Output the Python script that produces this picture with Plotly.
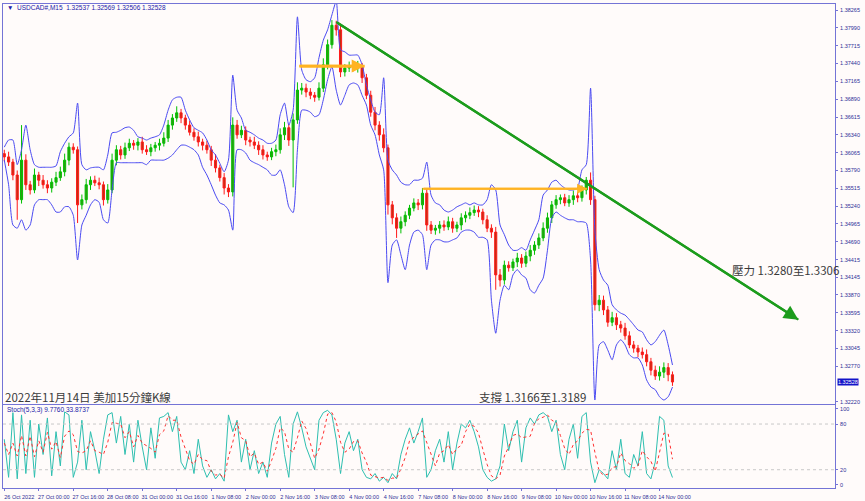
import plotly.graph_objects as go
from plotly.subplots import make_subplots

# ---------------- data (2-hour bars) ----------------
tick_idx = list(range(0, 153, 8))
tick_text = ["26 Oct 2022", "27 Oct 00:00", "27 Oct 16:00", "28 Oct 08:00", "31 Oct 00:00",
             "31 Oct 16:00", "1 Nov 08:00", "2 Nov 00:00", "2 Nov 16:00", "3 Nov 08:00",
             "4 Nov 00:00", "4 Nov 16:00", "7 Nov 08:00", "8 Nov 00:00", "8 Nov 16:00",
             "9 Nov 08:00", "10 Nov 00:00", "10 Nov 16:00", "11 Nov 08:00", "14 Nov 00:00"]

open_first = 1.3605
close = [1.3600, 1.3592, 1.3572, 1.3534, 1.3595, 1.3557, 1.3549, 1.3572, 1.3564, 1.3557,
         1.3552, 1.3561, 1.3568, 1.3577, 1.3595, 1.3615, 1.3611, 1.3526, 1.3534, 1.3557,
         1.3564, 1.3560, 1.3557, 1.3534, 1.3549, 1.3595, 1.3611, 1.3603, 1.3614, 1.3621,
         1.3618, 1.3623, 1.3611, 1.3608, 1.3614, 1.3618, 1.3621, 1.3629, 1.3649, 1.3660,
         1.3668, 1.3660, 1.3649, 1.3638, 1.3631, 1.3623, 1.3618, 1.3611, 1.3595, 1.3583,
         1.3568, 1.3552, 1.3546, 1.3649, 1.3634, 1.3641, 1.3626, 1.3623, 1.3618, 1.3611,
         1.3603, 1.3600, 1.3608, 1.3611, 1.3634, 1.3645, 1.3626, 1.3657, 1.3703, 1.3706,
         1.3700, 1.3695, 1.3692, 1.3706, 1.3742, 1.3773, 1.3803, 1.3796, 1.3731, 1.3737,
         1.3740, 1.3737, 1.3740, 1.3722, 1.3695, 1.3669, 1.3649, 1.3634, 1.3614, 1.3526,
         1.3506, 1.3490, 1.3500, 1.3510, 1.3521, 1.3529, 1.3526, 1.3544, 1.3495, 1.3487,
         1.3490, 1.3495, 1.3492, 1.3500, 1.3490, 1.3495, 1.3506, 1.3510, 1.3514, 1.3518,
         1.3515, 1.3503, 1.3490, 1.3484, 1.3418, 1.3410, 1.3433, 1.3429, 1.3438, 1.3444,
         1.3436, 1.3447, 1.3456, 1.3464, 1.3475, 1.3490, 1.3506, 1.3526, 1.3534, 1.3537,
         1.3529, 1.3534, 1.3540, 1.3537, 1.3549, 1.3564, 1.3534, 1.3372, 1.3379, 1.3364,
         1.3345, 1.3352, 1.3341, 1.3336, 1.3324, 1.3310, 1.3305, 1.3299, 1.3295, 1.3284,
         1.3271, 1.3262, 1.3268, 1.3275, 1.3264, 1.32528]

wick_up_pips = [6, 8, 5, 7, 54, 9, 6, 10, 5, 8, 7, 6, 9, 8, 10, 7, 6, 5, 8, 9,
                6, 7, 8, 5, 9, 10, 7, 6, 8, 7, 5, 6, 8, 7, 6, 5, 7, 9, 8, 6,
                10, 6, 5, 7, 6, 8, 5, 7, 6, 9, 5, 7, 6, 12, 8, 7, 6, 5, 8, 6,
                7, 5, 6, 8, 10, 9, 6, 10, 12, 8, 7, 6, 5, 9, 10, 8, 8, 7, 9, 6,
                7, 6, 8, 5, 6, 7, 8, 6, 10, 5, 6, 7, 8, 6, 5, 7, 6, 8, 7, 6,
                5, 6, 7, 8, 6, 5, 7, 6, 8, 7, 6, 5, 7, 6, 8, 9, 7, 6, 5, 8,
                6, 7, 8, 6, 7, 9, 8, 6, 7, 5, 6, 7, 8, 6, 7, 5, 12, 6, 8, 7,
                6, 9, 7, 6, 8, 7, 6, 5, 7, 8, 6, 7, 9, 8, 7, 5]
wick_dn_pips = [7, 6, 8, 31, 6, 8, 7, 5, 9, 6, 8, 7, 6, 5, 7, 8, 6, 28, 7, 6,
                8, 5, 7, 9, 6, 5, 8, 7, 6, 5, 7, 8, 6, 5, 7, 6, 8, 5, 6, 7,
                6, 8, 7, 5, 6, 7, 8, 6, 9, 7, 6, 10, 8, 7, 6, 5, 8, 7, 6, 8,
                7, 6, 5, 7, 6, 8, 9, 73, 6, 7, 8, 6, 7, 5, 6, 7, 6, 9, 8, 7,
                6, 5, 7, 8, 6, 7, 8, 9, 7, 15, 10, 15, 8, 7, 6, 5, 8, 7, 9, 6,
                7, 8, 6, 5, 7, 6, 8, 7, 6, 5, 8, 7, 6, 9, 23, 10, 7, 6, 5, 8,
                7, 6, 8, 7, 6, 5, 7, 8, 6, 7, 5, 6, 8, 7, 6, 7, 8, 9, 10, 8,
                7, 6, 8, 7, 6, 5, 7, 8, 6, 7, 8, 6, 7, 9, 10, 6]

band_up = [1.3615, 1.3626, 1.3626, 1.3588, 1.3611, 1.3649, 1.3611, 1.3588, 1.3584, 1.3584,
           1.3584, 1.3584, 1.3586, 1.3608, 1.3621, 1.3631, 1.3637, 1.3683, 1.3588, 1.3580,
           1.3583, 1.3584, 1.3584, 1.3580, 1.3603, 1.3637, 1.3638, 1.3641, 1.3645, 1.3646,
           1.3641, 1.3631, 1.3629, 1.3626, 1.3629, 1.3631, 1.3634, 1.3649, 1.3672, 1.3688,
           1.3692, 1.3692, 1.3672, 1.3657, 1.3645, 1.3641, 1.3637, 1.3626, 1.3611, 1.3603,
           1.3590, 1.3577, 1.3595, 1.3726, 1.3672, 1.3660, 1.3641, 1.3638, 1.3634, 1.3629,
           1.3626, 1.3621, 1.3621, 1.3626, 1.3665, 1.3683, 1.3649, 1.3672, 1.3816, 1.3734,
           1.3719, 1.3716, 1.3722, 1.3753, 1.3780, 1.3796, 1.3819, 1.3840, 1.3765, 1.3762,
           1.3757, 1.3757, 1.3757, 1.3742, 1.3711, 1.3688, 1.3669, 1.3665, 1.3722, 1.3595,
           1.3580, 1.3572, 1.3561, 1.3557, 1.3557, 1.3564, 1.3564, 1.3567, 1.3592, 1.3541,
           1.3529, 1.3526, 1.3518, 1.3515, 1.3518, 1.3523, 1.3526, 1.3529, 1.3526, 1.3529,
           1.3526, 1.3526, 1.3534, 1.3557, 1.3549, 1.3495, 1.3480, 1.3464, 1.3456, 1.3456,
           1.3460, 1.3456, 1.3472, 1.3487, 1.3503, 1.3541, 1.3549, 1.3561, 1.3564, 1.3557,
           1.3552, 1.3549, 1.3549, 1.3552, 1.3580, 1.3588, 1.3706, 1.3487, 1.3426, 1.3410,
           1.3402, 1.3372, 1.3364, 1.3359, 1.3356, 1.3349, 1.3341, 1.3333, 1.3330, 1.3318,
           1.3310, 1.3315, 1.3325, 1.3333, 1.3310, 1.3279]
band_dn = [1.3595, 1.3557, 1.3495, 1.3490, 1.3503, 1.3487, 1.3495, 1.3526, 1.3534, 1.3534,
           1.3534, 1.3526, 1.3515, 1.3515, 1.3523, 1.3523, 1.3510, 1.3441, 1.3495, 1.3510,
           1.3526, 1.3534, 1.3530, 1.3503, 1.3498, 1.3549, 1.3591, 1.3591, 1.3591, 1.3591,
           1.3591, 1.3591, 1.3591, 1.3588, 1.3595, 1.3595, 1.3595, 1.3595, 1.3598, 1.3603,
           1.3611, 1.3618, 1.3618, 1.3615, 1.3611, 1.3603, 1.3584, 1.3572, 1.3557, 1.3541,
           1.3529, 1.3526, 1.3518, 1.3487, 1.3611, 1.3611, 1.3606, 1.3595, 1.3591, 1.3588,
           1.3584, 1.3580, 1.3572, 1.3572, 1.3580, 1.3557, 1.3523, 1.3514, 1.3611, 1.3672,
           1.3672, 1.3669, 1.3662, 1.3665, 1.3688, 1.3719, 1.3739, 1.3703, 1.3680, 1.3695,
           1.3711, 1.3714, 1.3711, 1.3695, 1.3680, 1.3649, 1.3634, 1.3603, 1.3580, 1.3406,
           1.3464, 1.3472, 1.3449, 1.3426, 1.3464, 1.3484, 1.3487, 1.3480, 1.3426, 1.3464,
           1.3472, 1.3472, 1.3469, 1.3469, 1.3472, 1.3475, 1.3484, 1.3487, 1.3487, 1.3484,
           1.3476, 1.3476, 1.3472, 1.3379, 1.3328, 1.3379, 1.3402, 1.3395, 1.3418, 1.3426,
           1.3418, 1.3413, 1.3395, 1.3390, 1.3402, 1.3413, 1.3456, 1.3506, 1.3515, 1.3510,
           1.3506, 1.3503, 1.3503, 1.3500, 1.3500, 1.3498, 1.3441, 1.3225, 1.3310, 1.3315,
           1.3302, 1.3287, 1.3310, 1.3318, 1.3310, 1.3295, 1.3290, 1.3290, 1.3279, 1.3256,
           1.3245, 1.3241, 1.3230, 1.3225, 1.3230, 1.3245]

stoch_k = [60, 10, 95, 8, 92, 15, 85, 10, 80, 40, 88, 12, 70, 25, 96, 92, 10, 30, 85, 20,
           70, 45, 15, 60, 92, 95, 55, 90, 40, 80, 30, 85, 50, 20, 75, 35, 88, 90, 95, 70,
           90, 30, 20, 45, 15, 60, 25, 10, 20, 8, 15, 5, 92, 70, 85, 30, 60, 20, 45, 15,
           30, 10, 55, 80, 90, 40, 10, 80, 96, 75, 50, 35, 20, 85, 95, 98, 92, 60, 15, 55,
           70, 45, 60, 20, 10, 8, 15, 5, 10, 3, 15, 8, 40, 60, 75, 55, 70, 88, 10, 20,
           45, 60, 30, 70, 20, 55, 80, 75, 85, 70, 50, 20, 10, 5, 8, 25, 80, 45, 70, 85,
           30, 75, 88, 80, 92, 95, 90, 70, 85, 40, 20, 60, 80, 35, 90, 95, 30, 3, 20, 15,
           8, 45, 20, 60, 15, 10, 40, 25, 70, 15, 8, 30, 90, 85, 25, 9.776]
stoch_d = [55, 40, 55, 38, 65, 38, 64, 37, 58, 43, 69, 47, 57, 36, 64, 71, 66, 44, 42, 45,
           58, 45, 43, 40, 56, 82, 81, 80, 62, 70, 50, 65, 55, 52, 48, 43, 66, 71, 91, 85,
           85, 63, 47, 32, 27, 40, 33, 32, 18, 13, 14, 9, 37, 56, 82, 62, 58, 37, 42, 27,
           30, 18, 32, 48, 75, 70, 47, 43, 62, 84, 74, 53, 35, 47, 67, 93, 95, 83, 56, 43,
           47, 57, 58, 42, 30, 13, 11, 9, 10, 6, 9, 9, 21, 36, 58, 63, 67, 71, 56, 39,
           25, 42, 45, 53, 40, 48, 52, 70, 80, 77, 68, 47, 27, 12, 8, 13, 38, 50, 65, 67,
           62, 63, 64, 81, 87, 89, 92, 85, 82, 65, 48, 40, 53, 58, 68, 73, 72, 43, 18, 13,
           14, 23, 24, 42, 32, 28, 22, 25, 45, 37, 31, 18, 43, 68, 67, 33.874]

price_ticks = [1.38265, 1.37990, 1.37715, 1.37440, 1.37165, 1.36890, 1.36615, 1.36340,
               1.36065, 1.35790, 1.35515, 1.35240, 1.34965, 1.34690, 1.34415, 1.34145,
               1.33870, 1.33595, 1.33320, 1.33045, 1.32770, 1.32220]
price_tick_text = ["1.38265", "1.37990", "1.37715", "1.37440", "1.37165", "1.36890", "1.36615",
                   "1.36340", "1.36065", "1.35790", "1.35515", "1.35240", "1.34965", "1.34690",
                   "1.34415", "1.34145", "1.33870", "1.33595", "1.33320", "1.33045", "1.32770",
                   "1.32220"]
stoch_ticks = [0, 20, 80, 100]
stoch_levels = [20, 80]
last_price = 1.32528

trend_bar = [77.0, 184.2]
trend_price = [1.3808, 1.3349]
res1_bar = [68.4, 83.6]
res1_price = 1.3740
res2_bar = [97.0, 135.2]
res2_price = 1.3551

for arr in (close, wick_up_pips, wick_dn_pips, band_up, band_dn, stoch_k, stoch_d):
    assert len(arr) == 156, len(arr)

bars = list(range(len(close)))
opens = [open_first] + close[:-1]
highs = [max(o, c) + w * 0.0001 for o, c, w in zip(opens, close, wick_up_pips)]
lows = [min(o, c) - w * 0.0001 for o, c, w in zip(opens, close, wick_dn_pips)]

FRAME = "#7474d6"
LBL = "#2e2e96"
BG = "#fffbfa"

fig = make_subplots(rows=2, cols=1, shared_xaxes=True, vertical_spacing=0.002,
                    row_heights=[0.83, 0.17])

fig.add_trace(go.Scatter(x=bars, y=band_up, mode="lines", line=dict(color="#4a4af2", width=1,
                         shape="spline", smoothing=0.6), hoverinfo="skip"), row=1, col=1)
fig.add_trace(go.Scatter(x=bars, y=band_dn, mode="lines", line=dict(color="#4a4af2", width=1,
                         shape="spline", smoothing=0.6), hoverinfo="skip"), row=1, col=1)
fig.add_trace(go.Candlestick(x=bars, open=opens, high=highs, low=lows, close=close,
                             increasing=dict(line=dict(color="#00c000", width=1), fillcolor="#2f9a10"),
                             decreasing=dict(line=dict(color="#ff1a1a", width=1), fillcolor="#c03010"),
                             whiskerwidth=0, hoverinfo="skip"), row=1, col=1)

# trend line and horizontal resistance arrows
fig.add_trace(go.Scatter(x=trend_bar, y=trend_price, mode="lines",
                         line=dict(color="#1c9c1c", width=2.2), hoverinfo="skip"), row=1, col=1)
fig.add_trace(go.Scatter(x=res1_bar, y=[res1_price, res1_price], mode="lines",
                         line=dict(color="#ffb322", width=2.6), hoverinfo="skip"), row=1, col=1)
fig.add_trace(go.Scatter(x=res2_bar, y=[res2_price, res2_price], mode="lines",
                         line=dict(color="#ffb322", width=2), hoverinfo="skip"), row=1, col=1)

# stochastic
fig.add_trace(go.Scatter(x=bars, y=stoch_k, mode="lines", line=dict(color="#2ebfb0", width=1),
                         hoverinfo="skip"), row=2, col=1)
fig.add_trace(go.Scatter(x=bars, y=stoch_d, mode="lines", line=dict(color="#ff3030", width=1, dash="dot"),
                         hoverinfo="skip"), row=2, col=1)
for lv in stoch_levels:
    fig.add_shape(type="line", xref="x2 domain", x0=0, x1=1, yref="y2", y0=lv, y1=lv,
                  line=dict(color="#c8c8c8", width=1, dash="dot"))

annotations = [
    dict(x=trend_bar[1], y=trend_price[1], ax=trend_bar[0], ay=trend_price[0], xref="x", yref="y",
         axref="x", ayref="y", showarrow=True, arrowhead=2, arrowsize=1.2, arrowwidth=2.4,
         arrowcolor="#1c9c1c", text=""),
    dict(x=res1_bar[1], y=res1_price, ax=res1_bar[0], ay=res1_price, xref="x", yref="y",
         axref="x", ayref="y", showarrow=True, arrowhead=2, arrowsize=1, arrowwidth=2.6,
         arrowcolor="#ffb322", text=""),
    dict(x=res2_bar[1], y=res2_price, ax=res2_bar[0], ay=res2_price, xref="x", yref="y",
         axref="x", ayref="y", showarrow=True, arrowhead=2, arrowsize=1, arrowwidth=2,
         arrowcolor="#ffb322", text=""),
    dict(x=0.002, y=0.9935, xref="paper", yref="paper", xanchor="left", yanchor="middle",
         showarrow=False, text="▼  USDCAD#,M15  1.32537 1.32569 1.32506 1.32528",
         font=dict(family="Liberation Sans", size=6.5, color="#2020a8")),
    dict(x=0.002, y=0.161, xref="paper", yref="paper", xanchor="left", yanchor="middle",
         showarrow=False, text="Stoch(5,3,3) 9.7760 33.8737",
         font=dict(family="Liberation Sans", size=6.5, color="#2020a8")),
    dict(x=0.0, y=0.188, xref="paper", yref="paper", xanchor="left", yanchor="middle",
         showarrow=False, text="2022年11月14日 美加15分鐘K線",
         font=dict(family="Noto Sans CJK TC", size=11.5, color="#3a3a3a")),
    dict(x=0.703, y=0.188, xref="paper", yref="paper", xanchor="right", yanchor="middle",
         showarrow=False, text="支撐 1.3166至1.3189",
         font=dict(family="Noto Sans CJK TC", size=11.5, color="#3a3a3a")),
    dict(x=0.874, y=0.4504, xref="paper", yref="paper", xanchor="left", yanchor="middle",
         showarrow=False, text="壓力 1.3280至1.3306",
         font=dict(family="Noto Sans CJK TC", size=11.5, color="#3a3a3a")),
    dict(x=1.0, y=last_price, xref="paper", yref="y", xanchor="left", yanchor="middle", xshift=2,
         showarrow=False, text=f"{last_price:.5f}", bgcolor="#1414c8", borderpad=0,
         font=dict(family="Liberation Sans", size=5.5, color="white")),
]

fig.update_layout(
    width=865, height=501, margin=dict(l=3, r=30, t=4, b=13, autoexpand=False),
    paper_bgcolor=BG, plot_bgcolor=BG, showlegend=False,
    annotations=annotations, hovermode=False,
)
fig.update_xaxes(range=[-0.3, 192.7], showgrid=False, zeroline=False, showline=True, mirror=True,
                 linecolor=FRAME, linewidth=1, rangeslider_visible=False, automargin=False)
fig.update_xaxes(showticklabels=False, ticks="", row=1, col=1)
fig.update_xaxes(tickvals=tick_idx, ticktext=tick_text, ticks="outside", ticklen=2, tickcolor=FRAME,
                 tickangle=0, tickfont=dict(family="Liberation Sans", size=5.5, color=LBL),
                 ticklabelshift=15, ticklabelstandoff=1, row=2, col=1)
fig.update_yaxes(side="right", range=[1.32189, 1.38358], tickvals=price_ticks, ticktext=price_tick_text,
                 showgrid=False, zeroline=False, showline=True, mirror=True, linecolor=FRAME,
                 ticks="outside", ticklen=2, tickcolor=FRAME, automargin=False, ticklabelstandoff=1,
                 tickfont=dict(family="Liberation Sans", size=5.5, color=LBL), row=1, col=1)
fig.update_yaxes(side="right", range=[-4, 105], tickvals=stoch_ticks, showgrid=False, zeroline=False,
                 showline=True, mirror=True, linecolor=FRAME, ticks="outside", ticklen=2, tickcolor=FRAME,
                 automargin=False, ticklabelstandoff=1,
                 tickfont=dict(family="Liberation Sans", size=5.5, color=LBL), row=2, col=1)
fig.layout.yaxis.domain = [0.1736, 1.0]
fig.layout.yaxis2.domain = [0.0, 0.1715]

fig.write_html("out.html", config={"displayModeBar": False},
               post_script="document.body.style.margin='0';document.body.style.overflow='hidden';"
                           "document.body.style.background='%s';" % BG)
